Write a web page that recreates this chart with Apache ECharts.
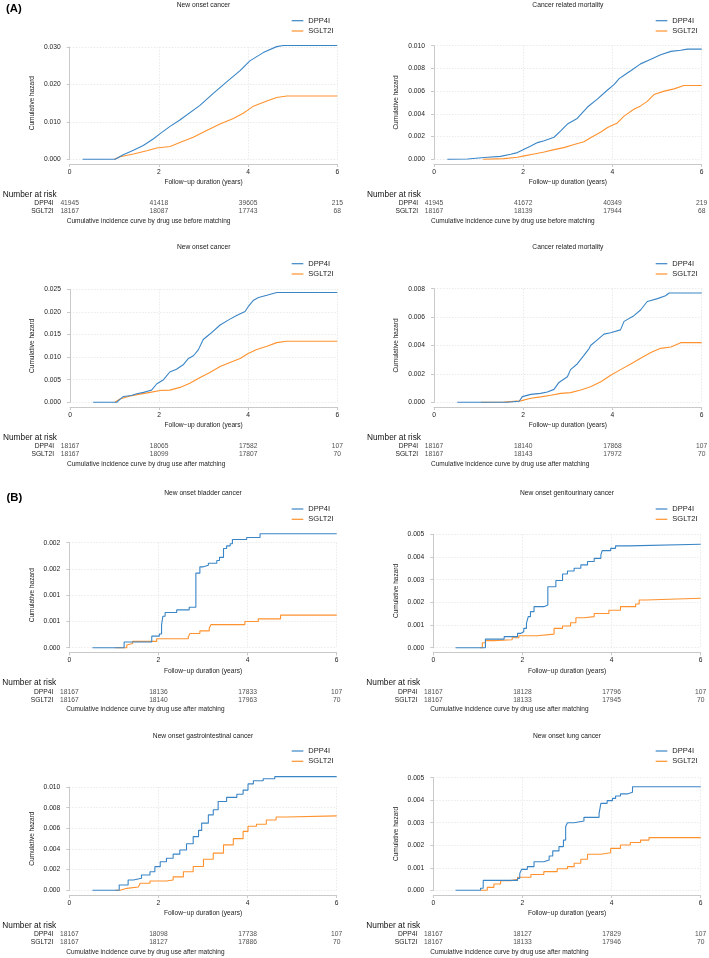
<!DOCTYPE html>
<html><head><meta charset="utf-8">
<script src="https://cdn.jsdelivr.net/npm/echarts@6/dist/echarts.min.js"></script>
<style>html,body{margin:0;padding:0;background:#fff}#c{width:709px;height:958px}</style>
</head><body><div id="c"></div>
<script>
const FONT = '"Liberation Sans", Arial, Helvetica, sans-serif';
const seriesNames = ['DPP4I', 'SGLT2I'];
const xTickValues = [0, 2, 4, 6];
const panelTitles = ['New onset cancer', 'Cancer related mortality', 'New onset cancer', 'Cancer related mortality',
  'New onset bladder cancer', 'New onset genitourinary cancer', 'New onset gastrointestinal cancer', 'New onset lung cancer'];
const captions = ['Cumulative incidence curve by drug use before matching', 'Cumulative incidence curve by drug use before matching',
  'Cumulative incidence curve by drug use after matching', 'Cumulative incidence curve by drug use after matching',
  'Cumulative incidence curve by drug use after matching', 'Cumulative incidence curve by drug use after matching',
  'Cumulative incidence curve by drug use after matching', 'Cumulative incidence curve by drug use after matching'];
const yTopTicks = [0.030, 0.010, 0.025, 0.008, 0.002, 0.005, 0.010, 0.005];
const yIntervals = [0.010, 0.002, 0.005, 0.002, 0.0005, 0.001, 0.002, 0.001];
const stepped = [false, false, false, false, true, true, true, true];

const p1DPP4I = [[0.29,0],[1.02,0],[1.2,0.0012],[1.43,0.0024],[1.65,0.0037],[1.88,0.0055],[2.02,0.0068],[2.25,0.0088],[2.47,0.0105],[2.92,0.0144],[3.22,0.0176],[3.52,0.0207],[3.82,0.0237],[4.04,0.0263],[4.34,0.0285],[4.64,0.0301],[4.79,0.0304],[6,0.0304]];
const p1SGLT2I = [[1.0,0],[1.13,0.0007],[1.43,0.0014],[1.73,0.0023],[1.95,0.003],[2.25,0.0034],[2.47,0.0045],[2.77,0.0059],[3.07,0.0077],[3.37,0.0094],[3.67,0.0109],[3.89,0.0123],[4.0,0.0132],[4.12,0.0142],[4.42,0.0156],[4.64,0.0165],[4.87,0.0169],[6,0.0169]];
const p2DPP4I = [[0.3,0],[0.75,0.00003],[1.2,0.00018],[1.49,0.00026],[1.72,0.00044],[1.87,0.00059],[2.02,0.00088],[2.17,0.00117],[2.32,0.00147],[2.47,0.00164],[2.69,0.00194],[2.84,0.0025],[2.99,0.0031],[3.21,0.0036],[3.44,0.0046],[3.66,0.0053],[3.89,0.0061],[4.04,0.0066],[4.15,0.0071],[4.26,0.0074],[4.41,0.0078],[4.63,0.0084],[4.86,0.0088],[5.08,0.0092],[5.31,0.0095],[5.53,0.0096],[5.68,0.0097],[6,0.0097]];
const p2SGLT2I = [[1.1,0],[1.57,0.00006],[1.87,0.00018],[2.02,0.0003],[2.24,0.00047],[2.47,0.00065],[2.69,0.00085],[2.91,0.00103],[3.14,0.0013],[3.36,0.00155],[3.51,0.0019],[3.74,0.0024],[3.89,0.0028],[4.11,0.0032],[4.26,0.0038],[4.48,0.0044],[4.63,0.0047],[4.78,0.0051],[4.93,0.0057],[5.16,0.006],[5.38,0.0062],[5.6,0.0065],[6,0.0065]];
const p3DPP4I = [[0.52,0],[1.05,0],[1.12,0.00066],[1.2,0.0013],[1.38,0.0015],[1.5,0.0019],[1.65,0.0022],[1.72,0.0024],[1.83,0.0027],[1.95,0.0041],[2.1,0.005],[2.24,0.0067],[2.39,0.0073],[2.54,0.0083],[2.66,0.0097],[2.77,0.0103],[2.88,0.0116],[2.99,0.0139],[3.14,0.0151],[3.37,0.0171],[3.59,0.0184],[3.74,0.0192],[3.93,0.0201],[4.01,0.0213],[4.12,0.0226],[4.23,0.0232],[4.42,0.0237],[4.64,0.0243],[6,0.0243]];
const p3SGLT2I = [[1.01,0],[1.12,0.00074],[1.35,0.0014],[1.57,0.0018],[1.8,0.0022],[2.02,0.0026],[2.24,0.0027],[2.47,0.0033],[2.69,0.0042],[2.92,0.0055],[3.14,0.0066],[3.37,0.0079],[3.59,0.0088],[3.82,0.0097],[4.0,0.0108],[4.19,0.0117],[4.42,0.0124],[4.64,0.0132],[4.86,0.0135],[6,0.0135]];
const p4DPP4I = [[0.52,0],[1.64,0],[1.91,0.00007],[1.98,0.0004],[2.17,0.00056],[2.39,0.00063],[2.54,0.00073],[2.69,0.00091],[2.8,0.0014],[2.99,0.0018],[3.06,0.0023],[3.21,0.0027],[3.36,0.0033],[3.48,0.0038],[3.51,0.004],[3.66,0.0044],[3.81,0.0048],[3.96,0.0049],[4.18,0.0051],[4.26,0.0057],[4.48,0.0061],[4.63,0.0065],[4.78,0.0071],[5.01,0.0073],[5.19,0.0075],[5.27,0.0077],[6,0.0077]];
const p4SGLT2I = [[1.05,0],[1.57,0.00002],[1.94,0.0001],[2.17,0.00028],[2.39,0.00038],[2.62,0.0005],[2.84,0.00063],[3.06,0.00068],[3.29,0.00087],[3.51,0.0011],[3.74,0.00145],[3.96,0.0019],[4.18,0.0023],[4.41,0.0027],[4.63,0.0031],[4.86,0.0035],[5.08,0.0038],[5.31,0.0039],[5.53,0.0042],[6,0.0042]];
const p5DPP4I = [[0.52,0],[1.23,0.00011],[1.85,0.00022],[2.02,0.00026],[2.07,0.00043],[2.1,0.0006],[2.15,0.00067],[2.41,0.00072],[2.69,0.00077],[2.84,0.00142],[2.93,0.00154],[3.01,0.00157],[3.12,0.00161],[3.31,0.00166],[3.37,0.00172],[3.46,0.00189],[3.53,0.00194],[3.61,0.00198],[3.66,0.00206],[3.98,0.0021],[4.28,0.00217],[6,0.00217]];
const p5SGLT2I = [[1.03,0],[1.29,0.00005],[1.32,0.00008],[1.42,0.00012],[1.96,0.00017],[2.67,0.00021],[2.71,0.00027],[2.93,0.00032],[3.14,0.00037],[3.18,0.00044],[3.94,0.0005],[4.24,0.00055],[4.74,0.00062],[6,0.00062]];
const p6DPP4I = [[0.5,0],[1.17,0.00038],[1.59,0.00049],[1.89,0.00063],[1.96,0.0007],[2.03,0.00085],[2.09,0.00107],[2.13,0.00137],[2.18,0.00159],[2.26,0.00181],[2.48,0.00188],[2.57,0.00269],[2.75,0.00296],[2.9,0.00325],[3.01,0.00338],[3.16,0.0035],[3.31,0.00365],[3.46,0.0038],[3.61,0.00394],[3.76,0.00409],[3.79,0.00428],[3.98,0.00438],[4.09,0.00449],[4.39,0.00456],[6,0.00456]];
const p6SGLT2I = [[1.05,0],[1.1,0.00022],[1.17,0.00031],[1.36,0.00035],[1.77,0.00044],[1.92,0.00053],[2.33,0.0006],[2.71,0.00085],[2.9,0.00096],[3.08,0.0011],[3.2,0.00132],[3.38,0.00137],[3.61,0.00151],[3.94,0.00165],[4.2,0.00181],[4.54,0.00193],[4.62,0.0021],[4.77,0.00218],[6,0.00218]];
const p7DPP4I = [[0.52,0],[1.12,0.00052],[1.32,0.001],[1.44,0.00116],[1.62,0.00148],[1.81,0.0018],[1.92,0.00229],[2.04,0.00277],[2.18,0.0031],[2.33,0.0035],[2.48,0.0039],[2.63,0.0045],[2.78,0.0052],[2.9,0.0058],[2.97,0.0065],[3.12,0.0073],[3.23,0.0078],[3.34,0.0086],[3.53,0.009],[3.76,0.0093],[3.9,0.0097],[4.01,0.0103],[4.13,0.0106],[4.35,0.0108],[4.61,0.011],[6,0.011]];
const p7SGLT2I = [[1.03,0],[1.14,0.00019],[1.29,0.00032],[1.55,0.00042],[1.59,0.00068],[1.81,0.0009],[2.18,0.001],[2.33,0.0013],[2.56,0.0018],[2.78,0.0023],[3.01,0.003],[3.23,0.0036],[3.46,0.0044],[3.68,0.005],[3.9,0.0057],[4.01,0.0062],[4.2,0.0064],[4.42,0.0068],[4.64,0.0071],[4.87,0.0072],[6,0.0072]];
const p8DPP4I = [[0.5,0],[1.06,0.00009],[1.12,0.00044],[1.89,0.00053],[1.94,0.00075],[1.98,0.00093],[2.11,0.00105],[2.26,0.00127],[2.48,0.00135],[2.6,0.00152],[2.68,0.00175],[2.82,0.00194],[2.92,0.00223],[2.97,0.00283],[3.01,0.003],[3.16,0.00308],[3.38,0.00324],[3.72,0.00342],[3.76,0.00386],[3.9,0.00398],[4.02,0.00408],[4.09,0.00419],[4.2,0.00428],[4.35,0.00435],[4.47,0.0046],[6,0.0046]];
const p8SGLT2I = [[1.06,0],[1.21,0.00013],[1.36,0.00028],[1.51,0.00043],[1.74,0.00049],[1.89,0.00058],[2.19,0.0007],[2.48,0.00083],[2.78,0.00096],[3.01,0.00105],[3.16,0.0012],[3.31,0.00138],[3.46,0.0016],[3.76,0.00167],[3.98,0.00186],[4.2,0.00201],[4.42,0.00212],[4.65,0.00223],[4.84,0.00234],[6,0.00234]];
const curvesDPP4I = [p1DPP4I, p2DPP4I, p3DPP4I, p4DPP4I, p5DPP4I, p6DPP4I, p7DPP4I, p8DPP4I];
const curvesSGLT2I = [p1SGLT2I, p2SGLT2I, p3SGLT2I, p4SGLT2I, p5SGLT2I, p6SGLT2I, p7SGLT2I, p8SGLT2I];

const riskDPP4I = [[41945,41418,39605,215],[41945,41672,40349,219],[18167,18065,17582,107],[18167,18140,17868,107],
  [18167,18136,17833,107],[18167,18128,17796,107],[18167,18098,17738,107],[18167,18127,17829,107]];
const riskSGLT2I = [[18167,18087,17743,68],[18167,18139,17944,68],[18167,18099,17807,70],[18167,18143,17972,70],
  [18167,18140,17963,70],[18167,18133,17945,70],[18167,18127,17886,70],[18167,18133,17946,70]];

// layout (pixels)
const layout = [
  {L:69.7, R:337.3, T:47,    B:159.3, row:0, col:0},
  {L:434,  R:701.7, T:45.7,  B:159.3, row:0, col:1},
  {L:70,   R:337.3, T:289.3, B:402.3, row:1, col:0},
  {L:434,  R:701.7, T:288.7, B:402.3, row:1, col:1},
  {L:69.3, R:336.7, T:542.7, B:647.7, row:2, col:0},
  {L:433.3,R:700.7, T:534.3, B:647.7, row:2, col:1},
  {L:69.3, R:336.7, T:787,   B:890.3, row:3, col:0},
  {L:433.3,R:700.7, T:777.7, B:890.3, row:3, col:1}
];
const rowTitleY = [5, 247.3, 493.3, 736];
const rowLegendY = [20.7, 263.7, 509, 751];
const legendX = [291.7, 655.7];

const BLUE = '#3a85c6', ORANGE = '#ff922e';
const AXIS = '#c9c9c9', GRIDC = '#e4e4e4', TXT = '#222';
const W = 709, H = 958;

const grids = [], xAxes = [], yAxes = [], series = [], legends = [], graphics = [];
const fmt = v => (Math.round(v * 1000 + 1e-9) / 1000).toFixed(3);

layout.forEach((p, i) => {
  // plot grid
  grids.push({left: p.L, top: p.T, width: p.R - p.L, height: p.B - p.T, containLabel: false});
  const gi = grids.length - 1;
  xAxes.push({
    gridIndex: gi, type: 'value', min: 0, max: 6, interval: 2, offset: 4.7,
    name: 'Follow\u2212up duration (years)', nameLocation: 'middle', nameGap: 15,
    nameTextStyle: {fontSize: 6.6, fontFamily: FONT, color: TXT},
    axisLine: {show: true, onZero: false, lineStyle: {color: AXIS, width: 1}},
    axisTick: {show: true, length: 3, lineStyle: {color: AXIS}},
    axisLabel: {fontSize: 6.7, fontFamily: FONT, color: TXT, margin: 4.5},
    splitLine: {show: true, lineStyle: {color: GRIDC, type: [1.5, 1.5], width: 0.8}}
  });
  yAxes.push({
    gridIndex: gi, type: 'value', min: 0, max: yTopTicks[i], interval: yIntervals[i], offset: 4,
    name: 'Cumulative hazard', nameLocation: 'middle', nameGap: 30,
    nameTextStyle: {fontSize: 6.5, fontFamily: FONT, color: TXT},
    axisLine: {show: true, lineStyle: {color: AXIS, width: 1}},
    axisTick: {show: true, length: 3, lineStyle: {color: AXIS}},
    axisLabel: {fontSize: 6.7, fontFamily: FONT, color: TXT, margin: 5, formatter: fmt},
    splitLine: {show: true, lineStyle: {color: GRIDC, type: [1.5, 1.5], width: 0.8}}
  });
  [[curvesDPP4I[i], BLUE, 'DPP4I'], [curvesSGLT2I[i], ORANGE, 'SGLT2I']].forEach(([d, c, n]) => {
    series.push({
      type: 'line', name: n, xAxisIndex: gi, yAxisIndex: gi, data: d,
      step: stepped[i] ? 'end' : false, showSymbol: false, symbol: 'none', clip: false,
      lineStyle: {color: c, width: 1.1}, itemStyle: {color: c}, silent: true, z: n === 'DPP4I' ? 3 : 2
    });
  });
  legends.push({
    data: seriesNames, orient: 'vertical', left: legendX[p.col], top: rowLegendY[p.row] - 5,
    icon: 'rect', itemWidth: 11.6, itemHeight: 1.2, itemGap: 0.3, padding: 0, selectedMode: false,
    textStyle: {fontSize: 7.5, fontFamily: FONT, color: TXT, lineHeight: 10}
  });

  // risk table grid
  grids.push({left: p.L, top: p.B + 40.3, width: p.R - p.L, height: 15.6, containLabel: false});
  const ri = grids.length - 1;
  xAxes.push({gridIndex: ri, type: 'value', min: 0, max: 6, show: false});
  yAxes.push({
    gridIndex: ri, type: 'category', data: seriesNames, inverse: true,
    axisLine: {show: false}, axisTick: {show: false}, splitLine: {show: false},
    axisLabel: {interval: 0, hideOverlap: false, fontSize: 6.7, fontFamily: FONT, color: TXT, margin: 16}
  });
  const rd = [];
  xTickValues.forEach((x, k) => {
    rd.push([x, 0, riskDPP4I[i][k]]);
    rd.push([x, 1, riskSGLT2I[i][k]]);
  });
  series.push({
    type: 'scatter', name: 'risk' + i, xAxisIndex: ri, yAxisIndex: ri, data: rd,
    symbolSize: 0.1, itemStyle: {color: 'rgba(0,0,0,0)'}, silent: true,
    label: {show: true, position: 'inside', formatter: q => String(q.value[2]),
      fontSize: 6.7, fontFamily: FONT, color: TXT}
  });

  // texts
  graphics.push({type: 'text', x: (p.L + p.R) / 2, y: rowTitleY[p.row],
    style: {text: panelTitles[i], align: 'center', verticalAlign: 'middle', fontSize: 6.7, fontFamily: FONT, fill: TXT}});
  graphics.push({type: 'text', x: p.L - 67, y: p.B + 35.3,
    style: {text: 'Number at risk', align: 'left', verticalAlign: 'middle', fontSize: 8.3, fontFamily: FONT, fill: '#111'}});
  graphics.push({type: 'text', x: p.L - 3, y: p.B + 61.5,
    style: {text: captions[i], align: 'left', verticalAlign: 'middle', fontSize: 6.5, fontFamily: FONT, fill: TXT}});
});
graphics.push({type: 'text', x: 6, y: 9.3, style: {text: '(A)', align: 'left', verticalAlign: 'middle', fontSize: 11.3, fontWeight: 'bold', fontFamily: FONT, fill: '#000'}});
graphics.push({type: 'text', x: 6.5, y: 498.3, style: {text: '(B)', align: 'left', verticalAlign: 'middle', fontSize: 11.3, fontWeight: 'bold', fontFamily: FONT, fill: '#000'}});

const chart = echarts.init(document.getElementById('c'), null, {renderer: 'canvas', width: W, height: H});
chart.setOption({
  animation: false, backgroundColor: '#fff',
  grid: grids, xAxis: xAxes, yAxis: yAxes, series: series, legend: legends, graphic: graphics
});
</script></body></html>
